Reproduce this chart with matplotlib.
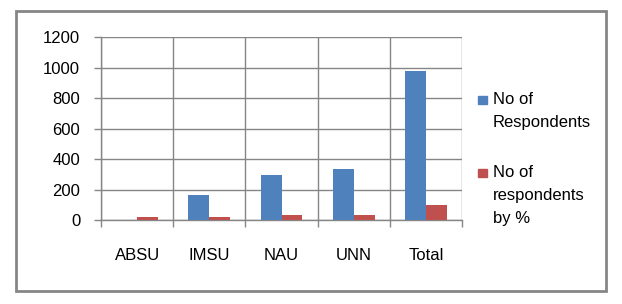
import matplotlib
matplotlib.use('Agg')
import matplotlib.pyplot as plt
import numpy as np
from matplotlib.patches import Rectangle

categories = ['ABSU', 'IMSU', 'NAU', 'UNN', 'Total']
respondents = [0, 164, 295, 334, 977]
respondents_pct = [20, 18, 33, 34, 100]
series_names = ['No of\nRespondents', 'No of\nrespondents\nby %']
colors = ['#4F81BD', '#C0504D']
gray = '#868686'

plt.rcParams['font.family'] = ['Liberation Sans', 'DejaVu Sans']

fig = plt.figure(figsize=(6.22, 3.04), dpi=100)
ax = fig.add_axes([0.1624, 0.2763, 0.5804, 0.6017])

x = np.arange(len(categories))
w = 0.29
ax.bar(x - w / 2, respondents, w, color=colors[0], zorder=3)
ax.bar(x + w / 2, respondents_pct, w, color=colors[1], zorder=3)

ax.set_xlim(-0.5, len(categories) - 0.5)
ax.set_ylim(0, 1200)
ax.set_yticks(range(0, 1201, 200))
ax.set_xticks(x)
ax.set_xticklabels(categories, fontsize=12)
ax.tick_params(axis='x', length=0, pad=20)
ax.tick_params(axis='y', length=5, width=1, color=gray, labelsize=12, pad=10)

# category boundaries: vertical grid + tick marks down
ax.set_xticks(np.arange(-0.5, len(categories)), minor=True)
ax.tick_params(axis='x', which='minor', length=5, width=1, color=gray)
ax.grid(True, which='minor', axis='x', color=gray, lw=1, zorder=0)
ax.grid(True, which='major', axis='y', color=gray, lw=1, zorder=0)

for s in ['top', 'right']:
    ax.spines[s].set_visible(False)
for s in ['left', 'bottom']:
    ax.spines[s].set_color(gray)
    ax.spines[s].set_linewidth(1)

# legend drawn by hand to keep marker on first line
leg_y = [0.671, 0.431]
for c, name, yy in zip(colors, series_names, leg_y):
    fig.patches.append(Rectangle((0.768, yy - 0.014), 0.0145, 0.028,
                                 transform=fig.transFigure, color=c))
    fig.text(0.792, yy + 0.025, name, fontsize=12, va='top', ha='left',
             linespacing=1.65)

# outer frame
fig.patches.append(Rectangle((0.026, 0.043), 0.948, 0.921, transform=fig.transFigure,
                             fill=False, edgecolor=gray, lw=2))

fig.savefig('out.png', dpi=100)
